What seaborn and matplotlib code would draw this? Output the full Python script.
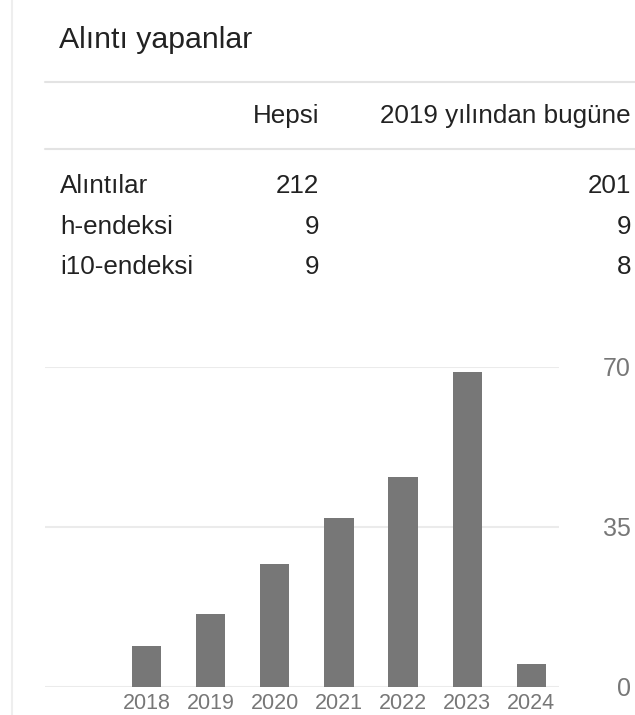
import numpy as np
import pandas as pd
import seaborn as sns
from matplotlib import pyplot as plt
from matplotlib.lines import Line2D

# chart data
years = ['2018', '2019', '2020', '2021', '2022', '2023', '2024']
citations = [9, 16, 27, 37, 46, 69, 5]
y_ticks = [0, 35, 70]

# table data
row_labels = ['Alıntılar', 'h-endeksi', 'i10-endeksi']
col_labels = ['Hepsi', '2019 yılından bugüne']
all_vals = [212, 9, 9]
since_vals = [201, 9, 8]

sns.set_style('white')
plt.rcParams['font.family'] = ['Liberation Sans', 'DejaVu Sans']

W, H = 635, 715
fig = plt.figure(figsize=(6.35, 7.15), dpi=100)


def fx(px):
    return px / W


def fy(py):
    return 1 - py / H


# thin border on the left
fig.add_artist(Line2D([fx(11.7), fx(11.7)], [0, 1], transform=fig.transFigure,
                      color='#eeeeee', lw=1.5))

fig.text(fx(59), fy(48), 'Alıntı yapanlar', fontsize=21.8, color='#222222', va='baseline')

for yy in [82, 149]:
    fig.add_artist(Line2D([fx(45), 1], [fy(yy), fy(yy)], transform=fig.transFigure,
                          color='#e3e3e3', lw=1.5))

fig.text(fx(319), fy(123), col_labels[0], fontsize=18.7, color='#222222', ha='right', va='baseline')
fig.text(fx(631), fy(123), col_labels[1], fontsize=18.7, color='#222222', ha='right', va='baseline')

row_y = [193, 233.5, 274]
for lab, a, s, yy in zip(row_labels, all_vals, since_vals, row_y):
    fig.text(fx(60), fy(yy), lab, fontsize=18.7, color='#222222', va='baseline')
    fig.text(fx(319), fy(yy), str(a), fontsize=18.7, color='#222222', ha='right', va='baseline')
    fig.text(fx(631), fy(yy), str(s), fontsize=18.7, color='#222222', ha='right', va='baseline')

# bar chart
ax = fig.add_axes([fx(45), fy(687), fx(559) - fx(45), fy(367) - fy(687)])
df = pd.DataFrame({'year': years, 'cit': citations})
sns.barplot(data=df, x='year', y='cit', order=years, color='#777777', saturation=1,
            width=0.457, linewidth=0, ax=ax)
ax.set_xlim(-1.58, 6.43)
ax.set_ylim(0, 70)
ax.set_yticks(y_ticks, labels=[str(v) for v in y_ticks])
ax.yaxis.tick_right()
for lbl in ax.get_yticklabels():
    lbl.set_horizontalalignment('right')
ax.grid(axis='y', color='#ebebeb', linewidth=1.5)
ax.grid(axis='x', visible=False)
ax.set_axisbelow(True)
for s in ax.spines.values():
    s.set_visible(False)
ax.tick_params(axis='y', length=0, pad=51.8, labelsize=18, labelcolor='#777777')
ax.tick_params(axis='x', length=0, pad=4, labelsize=15.5, labelcolor='#777777')
ax.set_xlabel('')
ax.set_ylabel('')

plt.savefig('out.png', dpi=100)
